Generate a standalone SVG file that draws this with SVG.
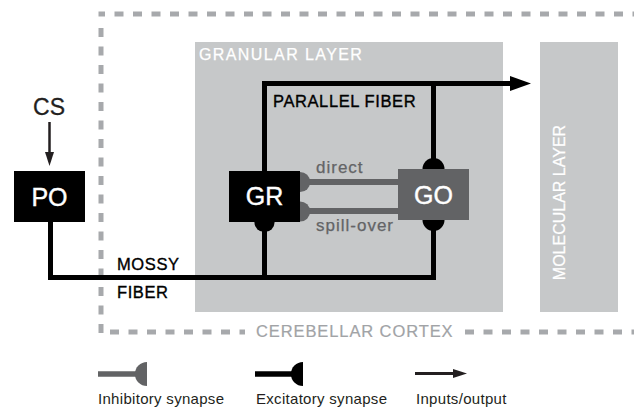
<svg xmlns="http://www.w3.org/2000/svg" width="638" height="409" viewBox="0 0 638 409" font-family="'Liberation Sans', Arial, Helvetica, sans-serif">
  <style>
    text { font-family: "Liberation Sans", Arial, Helvetica, sans-serif; }
    .layer { fill: #c6c8c9; }
    .layer-label { fill: #ffffff; font-size: 16px; stroke: #ffffff; stroke-width: 0.25px; }
    .border { fill: none; stroke: #a7a9ac; stroke-width: 5; stroke-dasharray: 9 9.5; }
    .fiber { fill: none; stroke: #000000; stroke-width: 5; stroke-linejoin: miter; }
    .inhib { fill: none; stroke: #626365; stroke-width: 6; }
    .box-label { fill: #ffffff; stroke: #ffffff; stroke-width: 0.4px; font-size: 25px; text-anchor: middle; }
    .fiber-label { fill: #000000; stroke: #000000; stroke-width: 0.35px; font-size: 16.5px; letter-spacing: 0.6px; }
    .syn-label { fill: #636466; stroke: #636466; stroke-width: 0.25px; font-size: 17px; letter-spacing: 1px; }
    .legend-label { fill: #231f20; font-size: 15px; letter-spacing: 0.3px; }
    .exc { fill: #000000; }
    .inh { fill: #626365; }
  </style>
  <defs>
    <!-- synaptic bouton: half disk, flat side on the target, dome pointing up -->
    <path id="bouton" d="M-11 0 A11 11 0 0 1 11 0 Z"/>
    <marker id="arrow-big" markerUnits="userSpaceOnUse" markerWidth="22" markerHeight="16" refX="0" refY="7.5" orient="auto">
      <path d="M0 0 L21 7.5 L0 15 Z" fill="#000000"/>
    </marker>
    <marker id="arrow-small" markerUnits="userSpaceOnUse" markerWidth="15" markerHeight="10" refX="0" refY="4.5" orient="auto">
      <path d="M0 0 L14 4.5 L0 9 Z" fill="#231f20"/>
    </marker>
  </defs>

  <!-- cortical layers -->
  <g id="granular-layer">
    <rect class="layer" x="195" y="42" width="308" height="270"/>
    <text class="layer-label" x="199" y="60" letter-spacing="1.4">GRANULAR LAYER</text>
  </g>
  <g id="molecular-layer">
    <rect class="layer" x="540" y="42" width="78" height="270"/>
    <text class="layer-label" x="0" y="0" text-anchor="middle" transform="translate(565 202.5) rotate(-90)">MOLECULAR LAYER</text>
  </g>

  <!-- cerebellar cortex boundary -->
  <g id="cerebellar-cortex">
    <path class="border" d="M98.5 14 H634" stroke-dashoffset="2.5"/>
    <path class="border" d="M101 28 V334.5"/>
    <path class="border" d="M110 332 H245"/>
    <path class="border" d="M465 332 H634"/>
    <text x="256" y="337" font-size="16.5" letter-spacing="0.9" fill="#a1a3a6" stroke="#a1a3a6" stroke-width="0.2">CEREBELLAR CORTEX</text>
  </g>

  <!-- connectors -->
  <g id="connectors">
    <!-- conditioned stimulus input -->
    <path d="M49.5 122 V152" stroke="#231f20" stroke-width="2.5" fill="none" marker-end="url(#arrow-small)"/>
    <!-- mossy fiber: PO to GR and GO -->
    <path class="fiber" d="M50.5 222 V277.5 H433.5 V228"/>
    <path class="fiber" d="M264.5 277.5 V230"/>
    <use href="#bouton" class="exc" transform="translate(264.5 222) rotate(180) scale(0.92)"/>
    <use href="#bouton" class="exc" transform="translate(433.5 220) rotate(180)"/>
    <!-- parallel fiber: GR to GO and output -->
    <path class="fiber" d="M264.5 171 V83.5 H510" marker-end="url(#arrow-big)"/>
    <path class="fiber" d="M433.5 83.5 V160"/>
    <use href="#bouton" class="exc" transform="translate(433.5 169)"/>
    <!-- Golgi inhibition of granule cells -->
    <path class="inhib" d="M305 182 H398"/>
    <path class="inhib" d="M305 211 H398"/>
    <use href="#bouton" class="inh" transform="translate(300 182) rotate(90) scale(0.92)"/>
    <use href="#bouton" class="inh" transform="translate(300 211.5) rotate(90) scale(0.92)"/>
  </g>

  <!-- connector labels -->
  <g id="connector-labels">
    <text class="fiber-label" x="273" y="107" font-size="17" letter-spacing="0.5">PARALLEL FIBER</text>
    <text class="fiber-label" x="117" y="270">MOSSY</text>
    <text class="fiber-label" x="117" y="298">FIBER</text>
    <text class="syn-label" x="316" y="173">direct</text>
    <text class="syn-label" x="316" y="231">spill-over</text>
  </g>

  <!-- cells -->
  <g id="CS">
    <text x="49" y="115" font-size="23" text-anchor="middle" fill="#231f20" stroke="#231f20" stroke-width="0.3">CS</text>
  </g>
  <g id="PO">
    <rect x="14" y="171" width="71" height="51" fill="#000000"/>
    <text class="box-label" x="49.5" y="206">PO</text>
  </g>
  <g id="GR">
    <rect x="229" y="171" width="71" height="51" fill="#000000"/>
    <text class="box-label" x="264.5" y="205">GR</text>
  </g>
  <g id="GO">
    <rect x="398" y="169" width="71" height="51" fill="#626365"/>
    <text class="box-label" x="433.5" y="203.5">GO</text>
  </g>

  <!-- legend -->
  <g id="legend">
    <path d="M98 374 H138" stroke="#626365" stroke-width="5.5" fill="none"/>
    <use href="#bouton" class="inh" transform="translate(147 374) rotate(-90) scale(1.1)"/>
    <text class="legend-label" x="98" y="404">Inhibitory synapse</text>
    <path d="M255 374 H295" stroke="#000000" stroke-width="5.5" fill="none"/>
    <use href="#bouton" class="exc" transform="translate(303 374) rotate(-90) scale(1.1)"/>
    <text class="legend-label" x="256" y="404">Excitatory synapse</text>
    <path d="M415 373.5 H453" stroke="#231f20" stroke-width="3" fill="none" marker-end="url(#arrow-small)"/>
    <text class="legend-label" x="416" y="404">Inputs/output</text>
  </g>
</svg>
